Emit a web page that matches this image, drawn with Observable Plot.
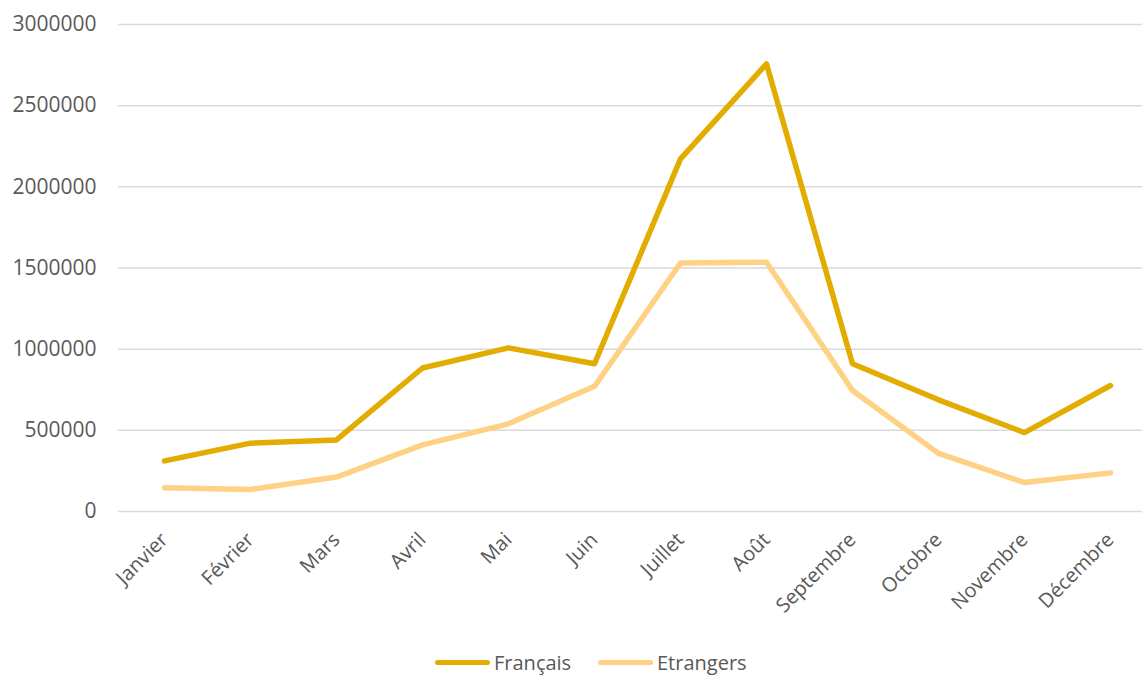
<!DOCTYPE html>
<html>
<head>
<meta charset="utf-8">
<script src="https://cdn.jsdelivr.net/npm/d3@7"></script>
<script src="https://cdn.jsdelivr.net/npm/@observablehq/plot@0.6"></script>
<style>
  html, body { margin: 0; padding: 0; background: #fff; }
  #chart { width: 1142px; overflow: hidden; }
  .legend { position: relative; height: 35px; font-family: "Open Sans", sans-serif; font-size: 20px; color: #595959; }
  .legend .item { position: absolute; top: 0; display: flex; align-items: center; height: 30px; }
  .legend .sw { display: inline-block; width: 55px; height: 5px; border-radius: 3px; margin-right: 4px; }
</style>
</head>
<body>
<div id="chart"></div>
<div class="legend">
  <div class="item" style="left:435px"><span class="sw" style="background:#E3AC00"></span><span>Français</span></div>
  <div class="item" style="left:598px"><span class="sw" style="background:#FFD185"></span><span>Etrangers</span></div>
</div>
<script>
const months = ["Janvier","Février","Mars","Avril","Mai","Juin","Juillet","Août","Septembre","Octobre","Novembre","Décembre"];
const francais = [312000, 421000, 441000, 884000, 1008000, 910000, 2172000, 2757000, 910000, 688000, 486000, 776000];
const etrangers = [147000, 136000, 212000, 410000, 540000, 771000, 1531000, 1535000, 745000, 358000, 178000, 238000];
const yTicks = [0, 500000, 1000000, 1500000, 2000000, 2500000, 3000000];
const seriesNames = ["Français", "Etrangers"];
const seriesColors = ["#E3AC00", "#FFD185"];

const data = [];
months.forEach((m, i) => {
  data.push({month: m, value: francais[i], series: seriesNames[0]});
  data.push({month: m, value: etrangers[i], series: seriesNames[1]});
});

const chart = Plot.plot({
  width: 1142,
  height: 647,
  marginLeft: 118,
  marginRight: 0,
  marginTop: 24,
  marginBottom: 136,
  style: {fontFamily: "'Open Sans', sans-serif", fontSize: "21px", color: "#595959", background: "#fff"},
  x: {type: "point", domain: months, padding: 0, insetLeft: 43, insetRight: 29, label: null},
  y: {domain: [0, 3000000], ticks: yTicks, label: null},
  color: {domain: seriesNames, range: seriesColors},
  marks: [
    Plot.ruleY(yTicks, {stroke: "#D9D9D9", strokeWidth: 1.5}),
    Plot.axisY({ticks: yTicks, tickSize: 0, tickPadding: 22, tickFormat: d => String(d), fontSize: 21, fill: "#595959", label: null}),
    Plot.axisX({tickSize: 0, tickRotate: -45, tickPadding: 25, fontSize: 20, fill: "#595959", label: null}),
    Plot.line(data, {x: "month", y: "value", z: "series", stroke: "series", strokeWidth: 5.5, strokeLinecap: "round", strokeLinejoin: "round"})
  ]
});
document.getElementById("chart").appendChild(chart);
</script>
</body>
</html>
